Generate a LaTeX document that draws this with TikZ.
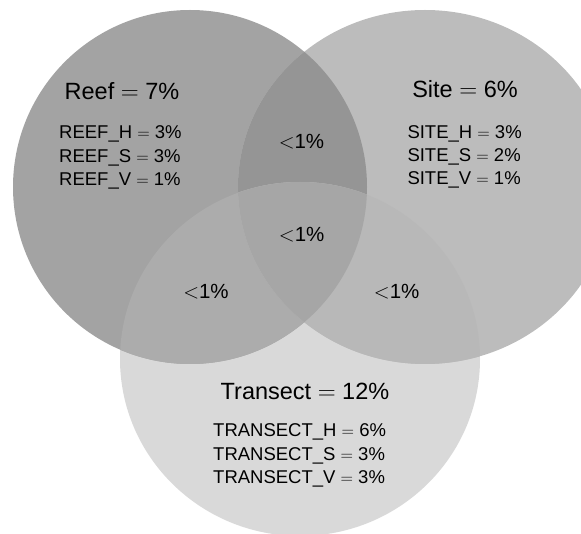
\documentclass[tikz,border=0pt]{standalone}
\usepackage{fontspec}
\setmainfont{Liberation Sans}
\definecolor{reefonly}{HTML}{A3A3A3}
\definecolor{siteonly}{HTML}{BCBCBC}
\definecolor{transonly}{HTML}{D9D9D9}
\definecolor{reefsite}{HTML}{959595}
\definecolor{reeftrans}{HTML}{ACACAC}
\definecolor{sitetrans}{HTML}{B8B8B8}
\definecolor{allthree}{HTML}{A6A6A6}
\tikzset{
  title/.style={anchor=base, inner sep=0pt, font=\fontsize{23.5}{28}\selectfont},
  sub/.style={anchor=base west, inner sep=0pt, font=\fontsize{18.5}{22}\selectfont},
  lt/.style={anchor=base, inner sep=0pt, font=\fontsize{20.5}{24}\selectfont},
}
\begin{document}
\begin{tikzpicture}[x=1pt,y=1pt]
\useasboundingbox (0,0) rectangle (581,533);
\coordinate (R) at (190,346);
\coordinate (S) at (425,346);
\coordinate (T) at (300,174);
\def\reefshape{(R) circle[radius=177pt]}
\def\siteshape{(S) ellipse[x radius=187pt, y radius=177pt]}
\def\transshape{(T) ellipse[x radius=180pt, y radius=177pt]}
% base shapes
\fill[transonly] \transshape;
\fill[reefonly] \reefshape;
\fill[siteonly] \siteshape;
% pairwise intersections
\begin{scope}\clip \reefshape; \fill[reefsite] \siteshape;\end{scope}
\begin{scope}\clip \reefshape; \fill[reeftrans] \transshape;\end{scope}
\begin{scope}\clip \siteshape; \fill[sitetrans] \transshape;\end{scope}
% triple
\begin{scope}\clip \reefshape; \clip \siteshape; \fill[allthree] \transshape;\end{scope}
% Reef
\node[title] (reeft) at (122,433.7) {Reef $=$ 7\%};
\node[sub] (reefh) at (59,394) {REEF\_H $=$ 3\%};
\node[sub] (reefs) at (59,370.7) {REEF\_S $=$ 3\%};
\node[sub] (reefv) at (59,347.3) {REEF\_V $=$ 1\%};
% Site
\node[title] (sitet) at (465,435.7) {Site $=$ 6\%};
\node[sub] (siteh) at (407.3,394.7) {SITE\_H $=$ 3\%};
\node[sub] (sites) at (407.3,371.3) {SITE\_S $=$ 2\%};
\node[sub] (sitev) at (407.3,348) {SITE\_V $=$ 1\%};
% Transect
\node[title] (transt) at (305,133) {Transect $=$ 12\%};
\node[sub] (transh) at (213,96.3) {TRANSECT\_H $=$ 6\%};
\node[sub] (transs) at (213,73) {TRANSECT\_S $=$ 3\%};
\node[sub] (transv) at (213,49.7) {TRANSECT\_V $=$ 3\%};
% overlaps
\node[lt] (rs) at (301.5,384.7) {$<$1\%};
\node[lt] (rst) at (301.7,291.3) {$<$1\%};
\node[lt] (rt) at (206,234.7) {$<$1\%};
\node[lt] (st) at (396.7,234.7) {$<$1\%};
\end{tikzpicture}
\end{document}
